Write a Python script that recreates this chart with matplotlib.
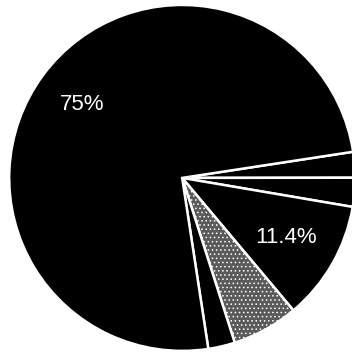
import numpy as np
import matplotlib
matplotlib.use('Agg')
import matplotlib.pyplot as plt

plt.rcParams['font.family'] = ['Liberation Sans', 'DejaVu Sans']
plt.rcParams['hatch.linewidth'] = 0.6

# 조각 순서: 시계방향, 오른쪽 위에서 시작
shares = [2.4, 2.7, 11.2, 6.2, 2.5, 75.0]
labels = ['', '', '11.4%', '', '', '75%']
fills = ['black', 'black', 'black', '#5a5a5a', 'black', 'black']
hatches = [None, None, None, '....', None, None]

fig = plt.figure(figsize=(3.52, 3.53), dpi=100)
ax = fig.add_axes([0.026, 0.006, 0.983, 0.980])
wedges, _ = ax.pie(shares, startangle=8.7, counterclock=False, colors=fills,
                   wedgeprops=dict(edgecolor='white', linewidth=1.8))
for w, h in zip(wedges, hatches):
    if h:
        w.set_hatch(h)

# 라벨 위치: 각 조각 가운데 각도
ang = 8.7
for w, s, lab in zip(wedges, shares, labels):
    mid = ang - s * 3.6 / 2
    ang -= s * 3.6
    if lab:
        d = 0.72 if s > 50 else 0.69
        ax.text(d * np.cos(np.radians(mid)), d * np.sin(np.radians(mid)), lab,
                color='white', fontsize=16, ha='center', va='center')

ax.set_xlim(-1, 1); ax.set_ylim(-1, 1)
fig.savefig('out.png', dpi=100)
